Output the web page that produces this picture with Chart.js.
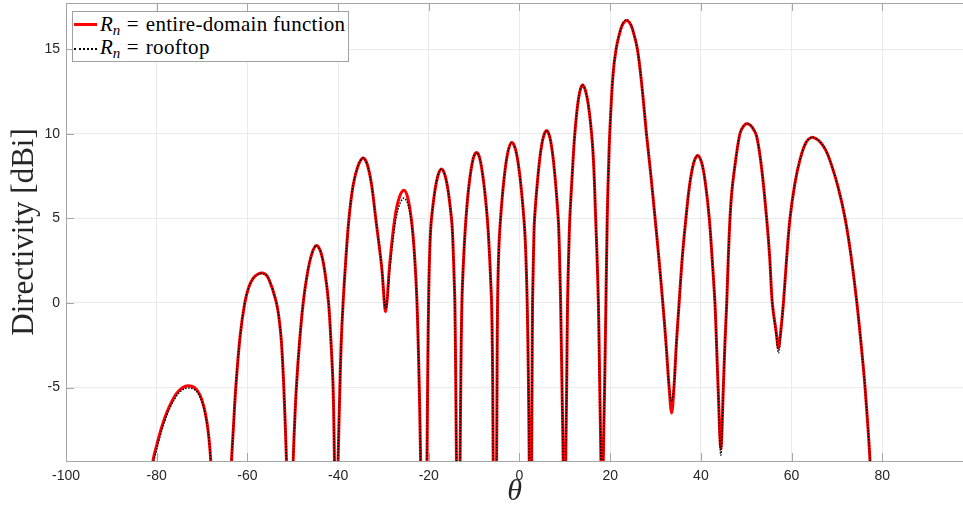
<!DOCTYPE html>
<html>
<head>
<meta charset="utf-8">
<title>Directivity</title>
<script src="https://cdn.jsdelivr.net/npm/chart.js@4.4.0/dist/chart.umd.min.js"></script>
<style>
  html, body { margin: 0; padding: 0; background: #fff; }
  #wrap { position: relative; width: 963px; height: 511px; }
  #legendBox {
    position: absolute; left: 72px; top: 11px; width: 275px; height: 49px;
    border: 1px solid #a0a0a0; background: #fff;
    font-family: "Liberation Serif", "DejaVu Serif", serif; font-size: 21px; color: #000;
  }
  .entry { position: absolute; left: 27px; height: 24px; line-height: 24px; white-space: nowrap; letter-spacing: 0.3px; }
  .entry i { font-style: italic; letter-spacing: 0; }
  .entry sub { font-size: 15px; vertical-align: -4px; line-height: 0; font-style: italic; }
  .entry .eq { margin: 0 7px 0 6px; }
  .swatch { position: absolute; left: 1px; width: 23px; }
</style>
</head>
<body>
<div id="wrap">
  <canvas id="chart" width="963" height="511"></canvas>
  <div id="legendBox">
    <div class="swatch" style="top:11px;height:3px;background:#ff0000;"></div>
    <div class="entry" style="top:0px;"><i>R</i><sub>n</sub><span class="eq">=</span>entire-domain function</div>
    <div class="swatch" style="top:36px;height:0;border-top:2px dotted #000;"></div>
    <div class="entry" style="top:23px;"><i>R</i><sub>n</sub><span class="eq">=</span>rooftop</div>
  </div>
</div>
<script>
// angle samples (deg), one row per lobe, shared by both curves
const theta = [
  -81.3, -80.81, -80.06, -79.18, -78.23, -77.12, -75.65, -74.33, -73.08, -71.61, -70.5, -69.62, -68.9, -68.45, -68.08, -67.6, -66.0,
  -64.0, -63.51, -63.07, -62.56, -61.61, -60.58, -59.7, -58.75, -57.64, -56.67, -55.66, -54.62, -54.1, -53.59, -53.1, -52.5, -51.97, -51.38, -51.0, -50.6,
  -50.2, -49.9, -49.6, -49.2, -48.5, -47.7, -46.8, -45.8, -44.8, -43.8, -42.9, -42.1, -41.55, -41.1, -40.8, -40.6, -40.4,
  -40.2, -40.0, -39.6, -39.33, -38.9, -38.3, -37.6, -36.69, -35.59, -34.5, -33.6, -32.63, -31.7, -30.4, -29.5, -28.6, -27.5, -26.54, -25.5, -24.62, -23.8, -23.16, -22.6, -22.1, -21.8, -21.6, -21.1,
  -20.6, -20.4, -20.3, -20.2, -20.05, -19.95, -19.8, -19.6, -19.4, -18.66, -17.93, -17.2, -16.46, -15.73, -15.0, -14.8, -14.6, -14.4, -14.25, -14.1, -14.0, -13.9, -13.7, -13.5,
  -13.3, -13.1, -12.93, -12.7, -12.34, -11.8, -11.1, -10.21, -9.46, -8.74, -7.86, -7.1, -6.6, -6.35, -6.15, -6.0, -5.9, -5.8, -5.6, -5.4,
  -5.2, -5.05, -4.94, -4.83, -4.55, -4.17, -3.44, -2.56, -1.68, -0.8, 0.09, 0.97, 1.35, 1.7, 1.95, 2.15, 2.28, 2.4,
  2.55, 2.67, 2.78, 2.88, 3.0, 3.15, 3.33, 4.21, 5.09, 6.0, 6.86, 7.74, 8.54, 8.75, 8.92, 9.07, 9.35, 9.64, 9.8, 9.95,
  10.05, 10.2, 10.4, 10.6, 10.86, 11.1, 11.63, 12.2, 13.04, 13.9, 14.93, 15.9, 16.37, 16.8, 17.07, 17.4, 17.7, 17.96, 18.08, 18.2,
  18.35, 18.47, 18.77, 19.06, 19.35, 19.6, 19.9, 20.6, 21.3, 22.3, 22.9, 23.6, 24.3, 24.9, 26.0, 27.0, 28.0, 28.95, 29.9, 30.75,
  31.6, 32.3, 33.0, 33.55, 34.06, 34.6, 35.2, 35.9, 36.7, 37.5, 38.4, 39.3, 40.2, 41.0, 41.85, 42.5, 43.1, 43.45, 43.8, 44.4,
  44.95, 45.3, 45.7, 46.05, 46.4, 46.8, 47.4, 48.6, 49.4, 50.3, 51.3, 52.3, 53.4, 54.5, 55.15, 55.75, 56.6, 57.1, 57.6,
  58.2, 58.9, 59.65, 60.75, 61.9, 63.2, 64.4, 65.4, 66.4, 67.5, 68.5, 70.2, 71.8, 73.1, 74.4, 75.3, 76.2, 77.3, 77.8, 78.5
];

// directivity [dBi], entire-domain basis
const entireDomain = [
  -12, -9.34, -8.47, -7.59, -6.8, -6.07, -5.36, -5.01, -4.89, -5.01, -5.42, -6.11, -7.09, -8.08, -9.34, -12, -20,
  -12, -9.34, -7.3, -4.99, -1.97, 0, 0.93, 1.46, 1.71, 1.77, 1.6, 0.95, 0.5, 0, -0.75, -2.3, -4.99, -9.34, -13, -20,
  -13, -9.34, -7.2, -5, -2.3, 0, 1.7, 2.9, 3.4, 3.0, 1.8, 0, -2.4, -5, -9.34, -13, -22,
  -13, -9.34, -5, -2.46, 0, 2.56, 5, 6.95, 8.11, 8.57, 8.21, 7.01, 5, 2.15, -0.5, 2.36, 5, 6.2, 6.66, 6.2, 4.85, 2.9, 0, -5, -9.34, -13, -22,
  -13, -9.34, -6.3, -3.3, 0, 1.5, 3.0, 4.3, 5, 6.62, 7.58, 7.92, 7.58, 6.62, 5, 4.3, 3.0, 1.4, 0, -3.3, -6.3, -9.34, -13, -22,
  -13, -9.34, -4.14, 0, 2.52, 5, 7.05, 8.53, 8.9, 8.53, 7.05, 5, 2.8, 1.3, 0, -2.3, -5.0, -9.34, -13, -22,
  -13, -9.34, -4.14, 0, 3.2, 5, 7.25, 8.92, 9.49, 9.0, 7.48, 5, 3.2, 0, -4.14, -9.34, -13, -22,
  -13, -9.34, -4.5, 0, 1.7, 3.6, 5, 7.88, 9.62, 10.2, 9.59, 7.74, 5, 3.6, 1.8, 0, -4.5, -9.34, -13, -22,
  -13, -9.34, -5, 0, 3.0, 5, 7.58, 10, 12.12, 12.9, 12.12, 10, 8.1, 5, 3.0, 0, -5, -9.34, -13, -22,
  -13, -9.34, -5, 0, 5, 7.6, 10, 13.4, 15, 16.16, 16.54, 16.7, 16.56, 16.2, 15, 12.8, 10, 7.6, 5, 2.6,
  0, -2.35, -5, -6.5, -5, -2.4, 0, 2.7, 5, 6.94, 8.27, 8.72, 8.26, 7.07, 5, 2.55, 0, -2.4, -5, -8.6,
  -5, -2.4, 0, 2.7, 4.9, 6.5, 7.9, 10, 10.45, 10.6, 10.4, 9.85, 7.95, 5, 2.8, 0, -1.7, -2.66, -1.7,
  0, 2.6, 5, 7.09, 8.52, 9.5, 9.79, 9.71, 9.49, 9.05, 8.4, 6.9, 5.0, 2.8, 0, -2.35, -5, -9.34, -13, -20
];

// directivity [dBi], rooftop basis
const rooftop = [
  -12, -9.6, -8.7, -7.8, -6.98, -6.22, -5.5, -5.14, -5.02, -5.13, -5.52, -6.2, -7.15, -8.12, -9.34, -12, -20,
  -12, -9.34, -7.3, -4.99, -1.97, 0, 0.92, 1.44, 1.69, 1.75, 1.59, 0.95, 0.5, 0, -0.75, -2.3, -4.99, -9.34, -13, -20,
  -13, -9.34, -7.2, -5, -2.3, 0, 1.7, 2.9, 3.4, 3.0, 1.8, 0, -2.4, -5, -9.34, -13, -22,
  -13, -9.34, -5, -2.46, 0, 2.56, 5, 6.95, 8.11, 8.57, 8.21, 7.01, 5, 2.2, -0.35, 2.0, 4.55, 5.75, 6.2, 5.85, 4.7, 2.8, 0, -5, -9.34, -13, -22,
  -13, -9.34, -6.3, -3.3, 0, 1.5, 3.0, 4.3, 5, 6.62, 7.58, 7.92, 7.58, 6.62, 5, 4.3, 3.0, 1.4, 0, -3.3, -6.3, -9.34, -13, -22,
  -13, -9.34, -4.14, 0, 2.52, 5, 7.05, 8.53, 8.9, 8.53, 7.05, 5, 2.8, 1.3, 0, -2.3, -5.0, -9.34, -13, -22,
  -13, -9.34, -4.14, 0, 3.2, 5, 7.25, 8.92, 9.49, 9.0, 7.48, 5, 3.2, 0, -4.14, -9.34, -13, -22,
  -13, -9.34, -4.5, 0, 1.7, 3.6, 5, 7.88, 9.62, 10.2, 9.59, 7.74, 5, 3.6, 1.8, 0, -4.5, -9.34, -13, -22,
  -13, -9.34, -5, 0, 3.0, 5, 7.58, 10, 12.12, 12.9, 12.12, 10, 8.1, 5, 3.0, 0, -5, -9.34, -13, -22,
  -13, -9.34, -5, 0, 5, 7.6, 10, 13.4, 15, 16.18, 16.58, 16.75, 16.6, 16.22, 15, 12.8, 10, 7.6, 5, 2.6,
  0, -2.35, -4.9, -5.82, -4.95, -2.4, 0, 2.7, 5, 6.94, 8.27, 8.72, 8.26, 7.07, 5, 2.55, 0, -2.45, -5.1, -9.0,
  -5.1, -2.45, 0, 2.7, 4.9, 6.5, 7.9, 10, 10.45, 10.6, 10.4, 9.85, 7.95, 5, 2.8, 0, -1.85, -2.96, -1.85,
  0, 2.6, 5, 7.09, 8.52, 9.5, 9.79, 9.71, 9.49, 9.05, 8.4, 6.9, 5.0, 2.8, 0, -2.35, -5, -9.34, -13, -20
];

const xTicks = [-100, -80, -60, -40, -20, 0, 20, 40, 60, 80];
const yTicks = [-5, 0, 5, 10, 15];
const xRange = [-100, 97.8];
const yRange = [-9.34, 17.73];

const axisColor = '#a6a6a6';
const gridColor = '#ebebeb';
const labelColor = '#262626';

const toPoints = vals => theta.map((t, i) => ({ x: t, y: vals[i] }));

// box line on top plus inward tick marks, like a matlab axes
const boxTicks = {
  id: 'boxTicks',
  beforeDatasetsDraw(chart) {
    const { ctx, chartArea: a, scales: { x, y } } = chart;
    ctx.save();
    ctx.strokeStyle = axisColor;
    ctx.lineWidth = 1;
    ctx.beginPath();
    ctx.moveTo(a.left, a.top + 0.5);
    ctx.lineTo(a.right, a.top + 0.5);
    x.ticks.forEach(t => {
      const px = Math.round(x.getPixelForValue(t.value)) + 0.5;
      ctx.moveTo(px, a.bottom); ctx.lineTo(px, a.bottom - 8);
      ctx.moveTo(px, a.top); ctx.lineTo(px, a.top + 8);
    });
    y.ticks.forEach(t => {
      const py = Math.round(y.getPixelForValue(t.value)) + 0.5;
      ctx.moveTo(a.left, py); ctx.lineTo(a.left + 8, py);
    });
    ctx.stroke();
    ctx.restore();
  }
};

new Chart(document.getElementById('chart'), {
  type: 'line',
  data: {
    datasets: [
      {
        label: 'R_n = entire-domain function',
        data: toPoints(entireDomain),
        borderColor: '#ff0000',
        borderWidth: 3,
        order: 1
      },
      {
        label: 'R_n = rooftop',
        data: toPoints(rooftop),
        borderColor: '#000000',
        borderWidth: 1.5,
        borderDash: [1.5, 1.5],
        order: 0
      }
    ]
  },
  options: {
    responsive: false,
    animation: false,
    devicePixelRatio: 1,
    layout: { padding: { top: 3, left: 0, right: 0, bottom: 0 } },
    elements: {
      point: { radius: 0 },
      line: { tension: 0.35, capBezierPoints: false, fill: false }
    },
    datasets: { line: { clip: 0 } },
    plugins: { legend: { display: false }, tooltip: { enabled: false } },
    scales: {
      x: {
        type: 'linear',
        min: xRange[0],
        max: xRange[1],
        afterBuildTicks: s => { s.ticks = xTicks.map(v => ({ value: v })); },
        afterFit: s => { s.height = 50; s.paddingLeft = 0; s.paddingRight = 0; },
        grid: { color: gridColor, drawTicks: false },
        border: { color: axisColor },
        ticks: {
          color: labelColor, padding: 7, maxRotation: 0, autoSkip: false,
          font: { family: 'Liberation Sans', size: 14 },
          callback: v => String(v)
        },
        title: {
          display: true, text: 'θ', color: labelColor,
          font: { family: 'Liberation Serif', size: 30, style: 'italic' },
          padding: { top: 0, bottom: 1 }
        }
      },
      y: {
        min: yRange[0],
        max: yRange[1],
        afterBuildTicks: s => { s.ticks = yTicks.map(v => ({ value: v })); },
        afterFit: s => { s.width = 66; s.paddingTop = 0; s.paddingBottom = 0; },
        grid: { color: gridColor, drawTicks: false },
        border: { color: axisColor },
        ticks: {
          color: labelColor, padding: 6, autoSkip: false,
          font: { family: 'Liberation Sans', size: 14 },
          callback: v => String(v)
        },
        title: {
          display: true, text: 'Directivity [dBi]', color: labelColor,
          font: { family: 'Liberation Serif', size: 31 },
          padding: { top: 6, bottom: 0 }
        }
      }
    }
  },
  plugins: [boxTicks]
});
</script>
</body>
</html>
